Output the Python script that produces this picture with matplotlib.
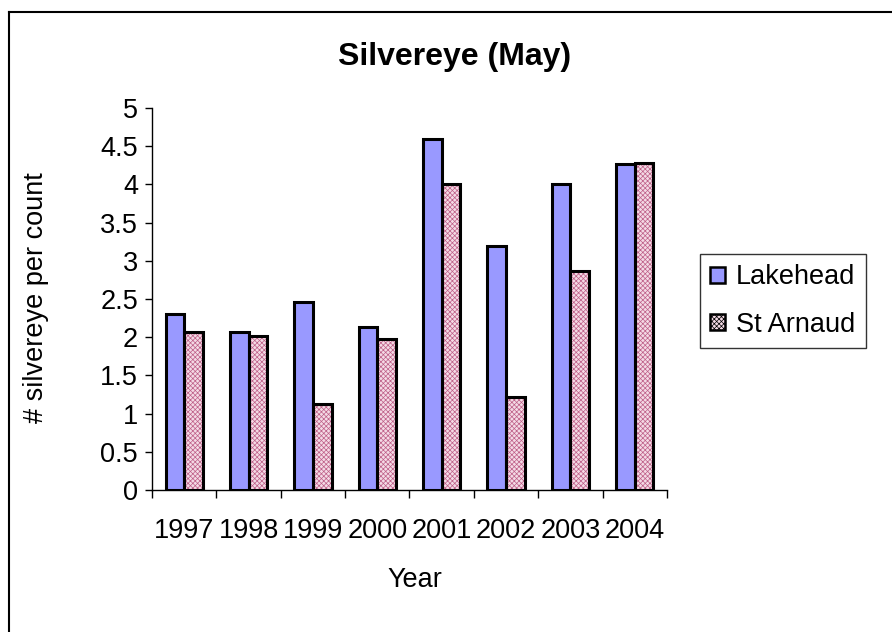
import matplotlib
matplotlib.use("Agg")
import matplotlib.pyplot as plt
import numpy as np
from matplotlib.lines import Line2D
from matplotlib.patches import Patch

plt.rcParams['font.family'] = ['Liberation Sans', 'DejaVu Sans']
plt.rcParams['hatch.linewidth'] = 0.5

years = ["1997", "1998", "1999", "2000", "2001", "2002", "2003", "2004"]
lakehead = [2.30, 2.07, 2.46, 2.14, 4.60, 3.20, 4.00, 4.27]
st_arnaud = [2.07, 2.01, 1.13, 1.98, 4.01, 1.22, 2.87, 4.28]
series_names = ["Lakehead", "St Arnaud"]

fig = plt.figure(figsize=(8.92, 6.32), dpi=100)
ax = fig.add_axes([152 / 892, (632 - 490) / 632, 515 / 892, 382 / 632])

x = np.arange(len(years))
w = 0.29
blue = "#9999FF"
pink_face = "#F4DAE5"
pink_hatch = "#BE5F88"
fs = 19.5

ax.bar(x - w / 2, lakehead, width=w, color=blue, edgecolor="black",
       linewidth=2.2, zorder=3)
ax.bar(x + w / 2, st_arnaud, width=w, color=pink_face, edgecolor=pink_hatch,
       hatch="xxxxxxx", linewidth=0, zorder=3)
ax.bar(x + w / 2, st_arnaud, width=w, fill=False, edgecolor="black",
       linewidth=2.2, zorder=4)

ax.set_xlim(-0.5, len(years) - 0.5)
ax.set_ylim(0, 5)
ax.set_yticks(np.arange(0, 5.01, 0.5))
ax.set_yticklabels(["0", "0.5", "1", "1.5", "2", "2.5", "3", "3.5", "4", "4.5", "5"])

ax.set_xticks(np.arange(-0.5, len(years), 1.0))
ax.set_xticklabels([])
ax.set_xticks(x, minor=True)
ax.set_xticklabels(years, minor=True)
ax.tick_params(axis="x", which="major", length=6, width=1, direction="out")
ax.tick_params(axis="x", which="minor", length=0, pad=20, labelsize=fs)
ax.tick_params(axis="y", length=5, width=1, direction="out", pad=5, labelsize=fs)

for s in ("top", "right"):
    ax.spines[s].set_visible(False)
for s in ("left", "bottom"):
    ax.spines[s].set_linewidth(1.0)
    ax.spines[s].set_zorder(5)

fig.text(455 / 892, 1 - 57 / 632, "Silvereye (May)", ha="center", va="center",
         fontsize=23, fontweight="bold")
fig.text(36 / 892, 1 - 298 / 632, "# silvereye per count", ha="center",
         va="center", rotation=90, fontsize=fs)
fig.text(415 / 892, 1 - 580 / 632, "Year", ha="center", va="center",
         fontsize=fs)

handles = [
    Patch(facecolor=blue, edgecolor="black", linewidth=1.8),
    Patch(facecolor=pink_face, edgecolor="black", hatch="xxxxxxx", linewidth=1.8),
]
leg = fig.legend(handles, series_names, loc="center",
                 bbox_to_anchor=(783 / 892, 1 - 301 / 632),
                 fontsize=fs, frameon=True, fancybox=False,
                 edgecolor="black", handlelength=0.55, handleheight=0.55,
                 handletextpad=0.4, labelspacing=0.78, borderpad=0.38,
                 borderaxespad=0)
leg.get_frame().set_linewidth(1.0)

# chart area border (top and left edges)
fig.add_artist(Line2D([8.5 / 892, 8.5 / 892], [0, 1 - 11.5 / 632],
                      color="black", linewidth=1.5))
fig.add_artist(Line2D([8.5 / 892, 1], [1 - 11.5 / 632, 1 - 11.5 / 632],
                      color="black", linewidth=1.5))

fig.savefig("out.png", dpi=100, facecolor="white")
